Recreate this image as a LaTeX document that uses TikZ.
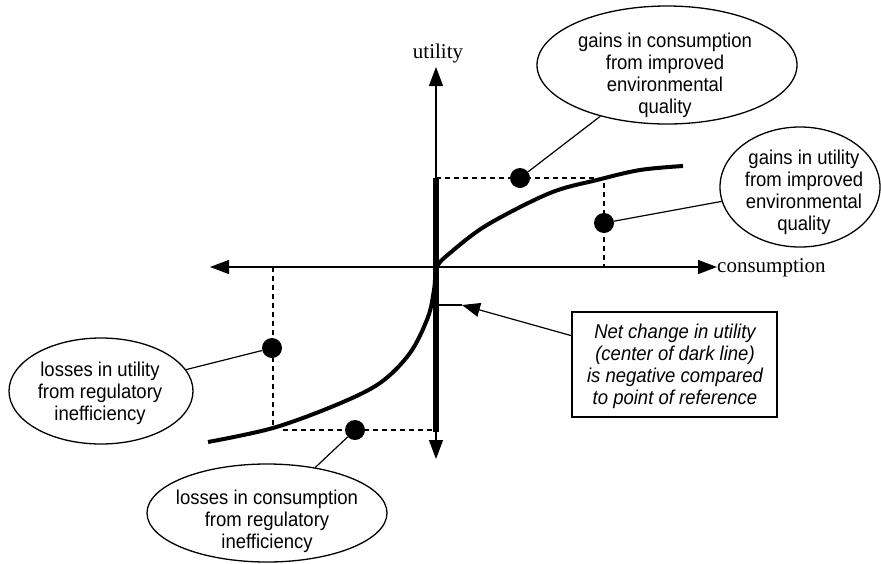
\documentclass[tikz,border=0pt]{standalone}
\usepackage{fontspec}
\setmainfont{Liberation Serif}
\newfontfamily\sansf[FakeStretch=0.925]{Liberation Sans}
\usetikzlibrary{arrows.meta,shapes.geometric}
\tikzset{
  axis/.style={line width=1.3pt,{Triangle[length=19pt,width=14pt]}-{Triangle[length=19pt,width=14pt]}},
  thickbar/.style={line width=5.5pt},
  curveline/.style={line width=4pt,line cap=butt},
  dashline/.style={line width=1.2pt,dash pattern=on 5pt off 4pt},
  conn/.style={line width=1.2pt},
  dot/.style={circle,fill=black,minimum size=20pt,inner sep=0pt},
  bubble/.style={ellipse,draw,line width=1.3pt,inner sep=0pt},
  btext/.style={font=\sansf\fontsize{20}{22}\selectfont,align=center,inner sep=0pt},
  axlabel/.style={font=\fontsize{21}{22}\selectfont,inner sep=0pt},
  notebox/.style={draw,line width=1.3pt,minimum width=205pt,minimum height=105pt,inner sep=0pt},
}
\begin{document}
\begin{tikzpicture}[x=1pt,y=-1pt]
\useasboundingbox (0,0) rectangle (881,563);
% axes
\coordinate (ytop) at (436,67);
\coordinate (ybot) at (436,459);
\coordinate (xl) at (210,267);
\coordinate (xr) at (717,267);
\draw[axis] (ybot) -- (ytop);
\draw[axis] (xl) -- (xr);
\node[axlabel] (ulab) at (438,53) {utility};
\node[axlabel,anchor=west] (clab) at (717,268) {consumption};
% thick bar
\coordinate (bt) at (436,178);
\coordinate (bb) at (436,432);
\draw[thickbar] (bt) -- (bb);
% curve
\draw[curveline] plot[smooth,tension=0.55] coordinates {(208,442) (273,428) (336,405) (380,383) (410,353) (428,317) (434,290) (437,267) (450,253) (487,225) (550,193) (597,180) (640,170) (683,166)};
% dashed lines
\coordinate (ua) at (436,178);
\coordinate (ub) at (598,178);
\coordinate (uc) at (604,183);
\coordinate (ud) at (604,267);
\draw[dashline] (ua) -- (ub);
\draw[dashline] (uc) -- (ud);
\coordinate (la) at (273,267);
\coordinate (lb) at (273,426);
\coordinate (lc) at (283,430);
\coordinate (ld) at (436,430);
\draw[dashline] (la) -- (lb);
\draw[dashline] (lc) -- (ld);
% dots
\node[dot] (d1) at (520,178) {};
\node[dot] (d2) at (604,223) {};
\node[dot] (d3) at (272,348) {};
\node[dot] (d4) at (355,430) {};
% bubbles
\node[bubble,minimum width=260pt,minimum height=118pt] (e1) at (667,65) {};
\node[btext] (t1) at (665,75) {gains in consumption\\from improved\\environmental\\quality};
\node[bubble,minimum width=160pt,minimum height=120pt] (e2) at (800,187) {};
\node[btext] (t2) at (804,192) {gains in utility\\from improved\\environmental\\quality};
\node[bubble,minimum width=184pt,minimum height=106pt] (e3) at (101,391) {};
\node[btext] (t3) at (100,393) {losses in utility\\from regulatory\\inefficiency};
\node[bubble,minimum width=240pt,minimum height=98pt] (e4) at (267,513) {};
\node[btext] (t4) at (267,521) {losses in consumption\\from regulatory\\inefficiency};
% connectors
\draw[conn] (d1) -- (e1);
\draw[conn] (d2) -- (e2);
\draw[conn] (d3) -- (e3);
\draw[conn] (d4) -- (e4);
% note box
\node[notebox] (nb) at (674.5,364.5) {};
\node[btext,font=\sansf\itshape\fontsize{20}{22}\selectfont] (nt) at (675,366) {Net change in utility\\(center of dark line)\\is negative compared\\to point of reference};
\coordinate (tip) at (462,305);
\coordinate (barpt) at (436,305);
\draw[conn] (barpt) -- (tip);
\draw[conn,-{Triangle[length=18pt,width=14pt]}] (nb) -- (tip);
\end{tikzpicture}
\end{document}
